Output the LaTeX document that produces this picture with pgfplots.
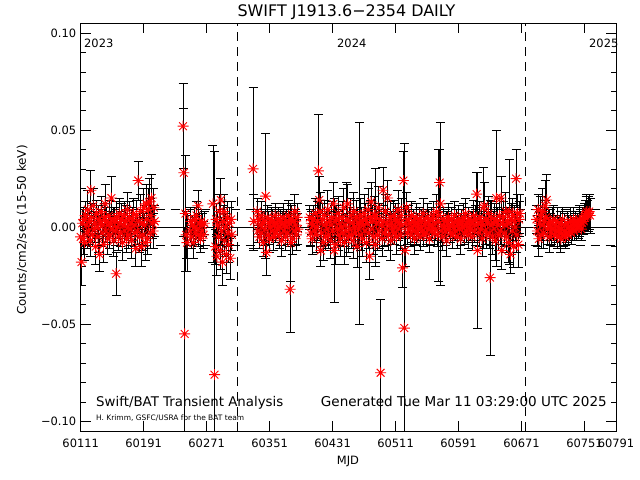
\documentclass[border=0pt]{standalone}
\usepackage{pgfplots}
\usepackage{pgfplotstable}
\pgfplotsset{compat=1.18}
\usepackage{fontspec}
\setmainfont{DejaVu Sans}
\pgfdeclareplotmark{ast8}{%
  \pgfpathmoveto{\pgfqpoint{-\pgfplotmarksize}{0pt}}\pgfpathlineto{\pgfqpoint{\pgfplotmarksize}{0pt}}%
  \pgfpathmoveto{\pgfqpoint{0pt}{-\pgfplotmarksize}}\pgfpathlineto{\pgfqpoint{0pt}{\pgfplotmarksize}}%
  \pgfpathmoveto{\pgfqpoint{-0.707\pgfplotmarksize}{-0.707\pgfplotmarksize}}\pgfpathlineto{\pgfqpoint{0.707\pgfplotmarksize}{0.707\pgfplotmarksize}}%
  \pgfpathmoveto{\pgfqpoint{-0.707\pgfplotmarksize}{0.707\pgfplotmarksize}}\pgfpathlineto{\pgfqpoint{0.707\pgfplotmarksize}{-0.707\pgfplotmarksize}}%
  \pgfusepathqstroke}
\pgfplotstableread{
x y e
60111 -0.005 0.006
60112 -0.018 0.012
60113 0.002 0.007
60114 -0.006 0.008
60115 0.004 0.006
60116 -0.008 0.009
60117 0.006 0.007
60118 0.001 0.006
60119 -0.003 0.008
60120 0.009 0.010
60121 -0.002 0.007
60122 0.003 0.006
60123 -0.007 0.008
60124 0.019 0.010
60125 0.005 0.007
60126 -0.004 0.006
60127 0.011 0.009
60128 -0.001 0.007
60129 0.002 0.006
60130 -0.010 0.009
60131 0.007 0.007
60132 0.000 0.006
60133 -0.005 0.008
60134 0.004 0.007
60135 -0.014 0.009
60136 0.002 0.006
60137 0.008 0.008
60138 -0.003 0.007
60139 0.001 0.006
60140 -0.009 0.009
60141 0.005 0.007
60142 0.012 0.010
60143 -0.002 0.006
60144 0.003 0.007
60145 -0.006 0.008
60146 0.001 0.006
60147 0.006 0.008
60148 -0.004 0.007
60149 0.002 0.006
60150 0.015 0.011
60151 -0.001 0.007
60152 0.004 0.006
60153 -0.007 0.008
60154 0.003 0.007
60155 -0.002 0.006
60156 -0.024 0.011
60157 0.005 0.008
60158 0.000 0.006
60159 -0.005 0.007
60160 0.007 0.008
60161 0.002 0.006
60162 -0.003 0.007
60163 0.004 0.008
60164 -0.008 0.009
60165 0.001 0.006
60166 0.006 0.007
60167 -0.002 0.006
60168 0.003 0.008
60169 -0.006 0.007
60170 0.009 0.009
60171 0.000 0.006
60172 -0.004 0.007
60173 0.005 0.008
60174 -0.001 0.006
60175 0.002 0.007
60176 -0.007 0.009
60177 0.004 0.006
60178 0.007 0.008
60179 -0.003 0.007
60180 0.001 0.006
60181 -0.011 0.009
60182 0.006 0.008
60183 -0.002 0.007
60184 0.024 0.010
60185 0.003 0.006
60186 -0.005 0.008
60187 0.008 0.009
60188 -0.010 0.010
60189 0.002 0.007
60190 -0.004 0.008
60191 0.010 0.010
60192 0.001 0.006
60193 -0.008 0.009
60194 0.012 0.010
60195 0.004 0.007
60196 -0.006 0.008
60197 0.009 0.011
60198 0.013 0.012
60199 -0.003 0.008
60200 0.006 0.009
60201 0.015 0.012
60202 0.002 0.008
60203 -0.002 0.009
60204 0.010 0.010
60205 0.003 0.008
60241 0.052 0.022
60242 0.028 0.033
60243 -0.055 0.055
60244 0.007 0.030
60245 -0.004 0.012
60246 -0.008 0.015
60250 -0.002 0.006
60251 0.003 0.007
60252 -0.005 0.006
60253 0.001 0.005
60254 -0.008 0.008
60255 0.004 0.006
60256 0.000 0.005
60257 -0.003 0.006
60258 0.006 0.007
60259 -0.001 0.005
60260 0.011 0.008
60261 -0.004 0.006
60262 0.002 0.005
60263 -0.006 0.007
60264 0.003 0.006
60265 -0.002 0.005
60266 0.001 0.006
60267 -0.004 0.007
60268 0.002 0.006
60279 0.012 0.030
60281 -0.076 0.115
60282 -0.010 0.009
60283 0.004 0.008
60284 -0.015 0.010
60285 0.001 0.007
60286 -0.005 0.008
60287 0.008 0.009
60288 -0.012 0.010
60289 0.014 0.011
60290 -0.002 0.007
60291 -0.018 0.012
60292 0.003 0.008
60293 0.008 0.009
60294 -0.007 0.008
60295 0.000 0.007
60296 -0.014 0.010
60297 0.005 0.008
60298 -0.003 0.007
60299 -0.009 0.009
60300 0.002 0.008
60301 -0.016 0.011
60302 0.004 0.009
60303 -0.004 0.008
60330 0.030 0.042
60331 0.003 0.014
60335 0.008 0.007
60336 -0.002 0.006
60337 0.004 0.005
60338 -0.005 0.006
60339 0.001 0.005
60340 0.006 0.007
60341 -0.003 0.005
60342 0.002 0.006
60343 -0.008 0.007
60344 0.003 0.005
60345 -0.001 0.006
60346 0.016 0.032
60347 -0.013 0.012
60348 0.005 0.006
60349 -0.004 0.005
60350 0.002 0.006
60351 -0.006 0.007
60352 0.000 0.005
60353 0.004 0.006
60354 -0.002 0.005
60355 0.003 0.006
60356 -0.005 0.007
60357 0.001 0.005
60358 0.006 0.006
60359 -0.003 0.005
60360 0.002 0.006
60361 -0.001 0.005
60362 0.004 0.006
60363 -0.004 0.007
60364 0.000 0.005
60365 0.003 0.006
60366 -0.007 0.008
60367 0.002 0.006
60368 0.005 0.007
60369 -0.002 0.005
60370 0.001 0.006
60371 -0.005 0.007
60372 0.003 0.006
60373 0.000 0.005
60374 -0.003 0.006
60375 0.006 0.008
60376 0.002 0.006
60377 -0.032 0.022
60378 -0.008 0.020
60379 0.004 0.007
60380 -0.006 0.008
60381 0.003 0.006
60382 -0.002 0.007
60383 0.008 0.009
60384 0.001 0.006
60385 -0.004 0.008
60386 0.005 0.007
60387 -0.001 0.008
60402 0.005 0.006
60403 -0.003 0.007
60404 0.002 0.006
60405 -0.006 0.008
60406 0.001 0.005
60407 0.004 0.007
60408 -0.002 0.006
60409 0.007 0.008
60410 -0.004 0.009
60411 0.000 0.006
60412 0.003 0.010
60413 0.029 0.029
60414 0.014 0.012
60415 0.008 0.010
60416 -0.012 0.008
60417 -0.003 0.007
60418 0.004 0.008
60419 -0.008 0.009
60420 0.001 0.006
60421 0.006 0.008
60422 -0.005 0.007
60423 0.002 0.006
60424 -0.001 0.008
60425 0.009 0.010
60426 -0.004 0.007
60427 0.003 0.006
60428 -0.007 0.009
60429 0.001 0.007
60430 0.005 0.008
60431 -0.002 0.006
60432 0.012 0.011
60433 -0.012 0.027
60434 0.003 0.008
60435 -0.009 0.010
60436 0.004 0.007
60437 -0.001 0.006
60438 0.007 0.009
60439 -0.004 0.008
60440 0.002 0.006
60441 -0.006 0.009
60442 0.000 0.007
60443 0.005 0.008
60444 -0.003 0.007
60445 0.010 0.010
60446 -0.008 0.011
60447 0.001 0.006
60448 -0.002 0.008
60449 0.004 0.019
60450 0.012 0.010
60451 -0.005 0.008
60452 0.003 0.007
60453 -0.001 0.006
60454 0.006 0.009
60455 -0.004 0.007
60456 0.002 0.006
60457 -0.007 0.009
60458 0.008 0.010
60459 0.000 0.007
60460 -0.003 0.008
60461 0.005 0.009
60462 -0.010 0.011
60463 0.002 0.007
60464 -0.001 0.008
60465 0.002 0.052
60466 0.006 0.009
60467 -0.004 0.008
60468 0.003 0.007
60469 -0.006 0.009
60470 0.001 0.006
60471 0.007 0.010
60472 -0.002 0.007
60473 0.004 0.008
60474 -0.008 0.010
60475 0.002 0.006
60476 0.009 0.011
60477 -0.003 0.008
60478 -0.015 0.012
60479 0.005 0.009
60480 0.013 0.010
60481 -0.001 0.007
60482 0.003 0.008
60483 -0.005 0.009
60484 0.006 0.010
60485 -0.009 0.011
60486 0.006 0.024
60487 0.002 0.007
60488 -0.004 0.008
60489 0.010 0.011
60490 -0.002 0.009
60491 0.004 0.008
60492 -0.075 0.038
60493 0.001 0.007
60494 -0.006 0.009
60495 0.019 0.012
60496 0.003 0.008
60497 -0.003 0.007
60498 0.008 0.009
60499 -0.001 0.006
60500 0.002 0.007
60501 0.015 0.009
60502 -0.004 0.008
60503 0.001 0.006
60504 0.005 0.008
60505 -0.007 0.010
60506 0.002 0.006
60507 -0.002 0.007
60508 0.006 0.008
60509 -0.003 0.006
60510 0.000 0.007
60511 0.004 0.008
60512 -0.005 0.009
60513 0.003 0.007
60514 0.009 0.010
60515 -0.001 0.006
60516 0.002 0.007
60517 -0.004 0.008
60518 0.006 0.009
60519 0.001 0.007
60520 -0.021 0.010
60521 0.024 0.015
60522 -0.052 0.095
60523 -0.012 0.008
60524 0.002 0.007
60525 0.010 0.008
60526 -0.003 0.006
60527 0.004 0.007
60528 -0.001 0.005
60529 0.002 0.006
60530 -0.004 0.006
60531 0.006 0.007
60532 0.000 0.005
60533 -0.002 0.006
60534 0.003 0.006
60535 -0.006 0.008
60536 0.001 0.005
60537 0.005 0.007
60538 -0.003 0.006
60539 0.002 0.005
60540 -0.001 0.006
60541 0.004 0.006
60542 -0.005 0.007
60543 0.000 0.005
60544 0.003 0.006
60545 -0.002 0.005
60546 0.007 0.008
60547 -0.004 0.006
60548 0.001 0.005
60549 0.002 0.006
60550 -0.003 0.006
60551 0.005 0.007
60552 -0.001 0.005
60553 0.003 0.006
60554 -0.006 0.007
60555 0.001 0.005
60556 0.004 0.006
60557 -0.002 0.005
60558 0.000 0.006
60559 0.006 0.007
60560 -0.003 0.006
60561 0.002 0.005
60562 -0.001 0.006
60563 0.008 0.009
60564 -0.004 0.006
60565 0.003 0.007
60566 0.006 0.034
60567 0.023 0.017
60568 0.012 0.042
60569 -0.002 0.006
60570 0.001 0.005
60571 -0.005 0.007
60572 0.004 0.006
60573 0.000 0.005
60574 -0.002 0.006
60575 0.003 0.005
60576 -0.007 0.008
60577 0.002 0.006
60578 0.005 0.007
60579 -0.001 0.005
60580 0.001 0.006
60581 -0.003 0.005
60582 0.004 0.006
60583 -0.004 0.007
60584 0.002 0.005
60585 0.000 0.006
60586 0.006 0.007
60587 -0.002 0.005
60588 0.003 0.006
60589 -0.005 0.006
60590 0.001 0.005
60591 0.004 0.007
60592 -0.001 0.006
60593 0.002 0.005
60594 -0.006 0.008
60595 0.003 0.006
60596 0.000 0.005
60597 0.005 0.007
60598 -0.003 0.006
60599 0.001 0.005
60600 0.007 0.008
60601 -0.002 0.006
60602 0.002 0.005
60603 -0.004 0.007
60604 0.004 0.006
60605 0.000 0.005
60606 -0.001 0.006
60607 0.003 0.005
60608 -0.005 0.007
60609 0.002 0.006
60610 0.006 0.008
60611 -0.002 0.006
60612 0.001 0.005
60613 0.004 0.007
60614 0.017 0.011
60615 -0.012 0.040
60616 0.002 0.006
60617 -0.003 0.007
60618 0.005 0.008
60619 -0.001 0.006
60620 0.003 0.007
60621 -0.006 0.009
60622 0.001 0.006
60623 0.010 0.021
60624 0.011 0.012
60625 -0.002 0.007
60626 0.004 0.008
60627 -0.004 0.007
60628 0.002 0.006
60629 0.007 0.009
60630 -0.003 0.008
60631 -0.026 0.040
60632 0.001 0.007
60633 0.005 0.008
60634 -0.005 0.009
60635 0.002 0.006
60636 -0.001 0.007
60637 0.004 0.008
60638 -0.007 0.010
60639 0.015 0.035
60640 0.003 0.007
60641 0.001 0.008
60642 -0.004 0.008
60643 0.006 0.009
60644 -0.002 0.007
60645 0.015 0.011
60646 -0.012 0.010
60647 0.002 0.007
60648 0.005 0.008
60649 -0.003 0.007
60650 0.001 0.006
60651 0.008 0.010
60652 -0.005 0.008
60653 0.003 0.007
60654 -0.008 0.010
60655 0.002 0.007
60656 0.008 0.027
60657 -0.014 0.010
60658 0.004 0.008
60659 -0.002 0.007
60660 0.006 0.009
60661 -0.010 0.011
60662 0.003 0.008
60663 0.000 0.007
60664 0.025 0.015
60665 -0.004 0.009
60666 0.007 0.010
60667 -0.009 0.012
60668 0.004 0.009
60669 0.007 0.010
60690 0.004 0.007
60691 -0.002 0.008
60692 0.009 0.008
60693 -0.006 0.009
60694 0.002 0.006
60695 0.006 0.010
60696 -0.004 0.007
60697 0.001 0.008
60698 0.008 0.012
60699 -0.003 0.008
60700 0.003 0.007
60701 0.011 0.013
60702 0.005 0.009
60703 0.014 0.013
60704 -0.001 0.008
60705 0.002 0.007
60706 -0.005 0.008
60707 0.003 0.006
60708 0.000 0.007
60709 -0.003 0.006
60710 0.002 0.008
60711 -0.001 0.006
60712 0.004 0.007
60713 -0.004 0.006
60714 0.001 0.005
60715 -0.002 0.006
60716 0.003 0.007
60717 -0.005 0.006
60718 0.000 0.005
60719 -0.003 0.007
60720 0.002 0.006
60721 -0.006 0.007
60722 -0.001 0.005
60723 0.004 0.006
60724 -0.004 0.006
60725 -0.002 0.005
60726 0.001 0.006
60727 -0.005 0.006
60728 -0.003 0.005
60729 0.002 0.006
60730 -0.004 0.005
60731 0.000 0.006
60732 -0.002 0.005
60733 0.003 0.007
60734 -0.003 0.006
60735 0.001 0.005
60736 -0.001 0.006
60737 0.004 0.006
60738 -0.002 0.005
60739 0.001 0.006
60740 0.003 0.005
60741 -0.001 0.006
60742 0.002 0.005
60743 0.000 0.006
60744 0.004 0.007
60745 0.001 0.006
60746 0.003 0.005
60747 -0.001 0.006
60748 0.002 0.005
60749 0.004 0.006
60750 0.003 0.007
60751 0.005 0.007
60752 0.006 0.008
60753 0.007 0.009
60754 0.008 0.009
60755 0.006 0.008
60756 0.007 0.009
60757 0.008 0.009
60758 0.006 0.009
}\datatable
\begin{document}
\begin{tikzpicture}[x=1bp,y=1bp]
\useasboundingbox (0,0) rectangle (640,480);
\fill[white] (0,0) rectangle (640,480);
\begin{axis}[
  at={(80.7bp,49bp)}, anchor=south west,
  scale only axis, width=535.3bp, height=407.7bp,
  xmin=60111, xmax=60791, ymin=-0.105, ymax=0.105,
  xtick={60111,60191,60271,60351,60431,60511,60591,60671,60751,60791},
  xticklabels={60111,60191,60271,60351,60431,60511,60591,60671,60751,60791},
  minor x tick num=3,
  ytick={-0.1,-0.05,0,0.05,0.1},
  yticklabels={−0.10,−0.05,0.00,0.05,0.10},
  minor y tick num=4,
  tick align=inside,
  major tick length=10bp, minor tick length=5bp,
  tick style={black, line width=0.6bp},
  axis line style={black, line width=0.8bp},
  ticklabel style={font=\fontsize{11.5}{12}\selectfont},
  xticklabel style={yshift=-4bp},
  yticklabel style={xshift=-1bp},
  scaled ticks=false,
]
\addplot[draw=none, mark=none, forget plot,
  error bars/.cd, y dir=both, y explicit,
  error bar style={draw=black, line width=0.9bp},
  error mark options={draw=black, rotate=90, mark size=4.5bp, line width=0.9bp}]
  table[x=x, y=y, y error=e] {\datatable};
\addplot[only marks, mark=ast8, mark size=5.5bp, red, line width=0.9bp]
  table[x=x, y=y] {\datatable};
\addplot[black, line width=0.8bp] coordinates {(60111,0) (60791,0)};
\addplot[black, line width=0.8bp, dash pattern=on 9bp off 6bp] coordinates {(60111,0.0093) (60791,0.0093)};
\addplot[black, line width=0.8bp, dash pattern=on 9bp off 6bp] coordinates {(60111,-0.0093) (60791,-0.0093)};
\addplot[black, line width=0.8bp, dash pattern=on 9bp off 6bp] coordinates {(60310,-0.105) (60310,0.105)};
\addplot[black, line width=0.8bp, dash pattern=on 9bp off 6bp] coordinates {(60676,-0.105) (60676,0.105)};
\end{axis}
\node[anchor=base, font=\fontsize{16}{18}\selectfont] at (346.5,463.5) {SWIFT J1913.6−2354 DAILY};
\node[anchor=base west, inner sep=0pt, font=\fontsize{11.5}{12}\selectfont] at (84,432) {2023};
\node[anchor=base west, inner sep=0pt, font=\fontsize{11.5}{12}\selectfont] at (337,432) {2024};
\node[anchor=base west, inner sep=0pt, font=\fontsize{11.5}{12}\selectfont] at (589,432) {2025};
\node[anchor=base west, inner sep=0pt, font=\fontsize{13.4}{14}\selectfont] at (96,73) {Swift/BAT Transient Analysis};
\node[anchor=base west, inner sep=0pt, font=\fontsize{7.5}{8}\selectfont] at (96,59.5) {H. Krimm, GSFC/USRA for the BAT team};
\node[anchor=base east, inner sep=0pt, font=\fontsize{13.6}{14}\selectfont] at (607,73) {Generated Tue Mar 11 03:29:00 UTC 2025};
\node[anchor=base, inner sep=0pt, font=\fontsize{11.5}{12}\selectfont] at (348,15) {MJD};
\node[rotate=90, anchor=center, inner sep=0pt, font=\fontsize{12}{13}\selectfont] at (22,250) {Counts/cm2/sec (15-50 keV)};
\end{tikzpicture}
\end{document}
